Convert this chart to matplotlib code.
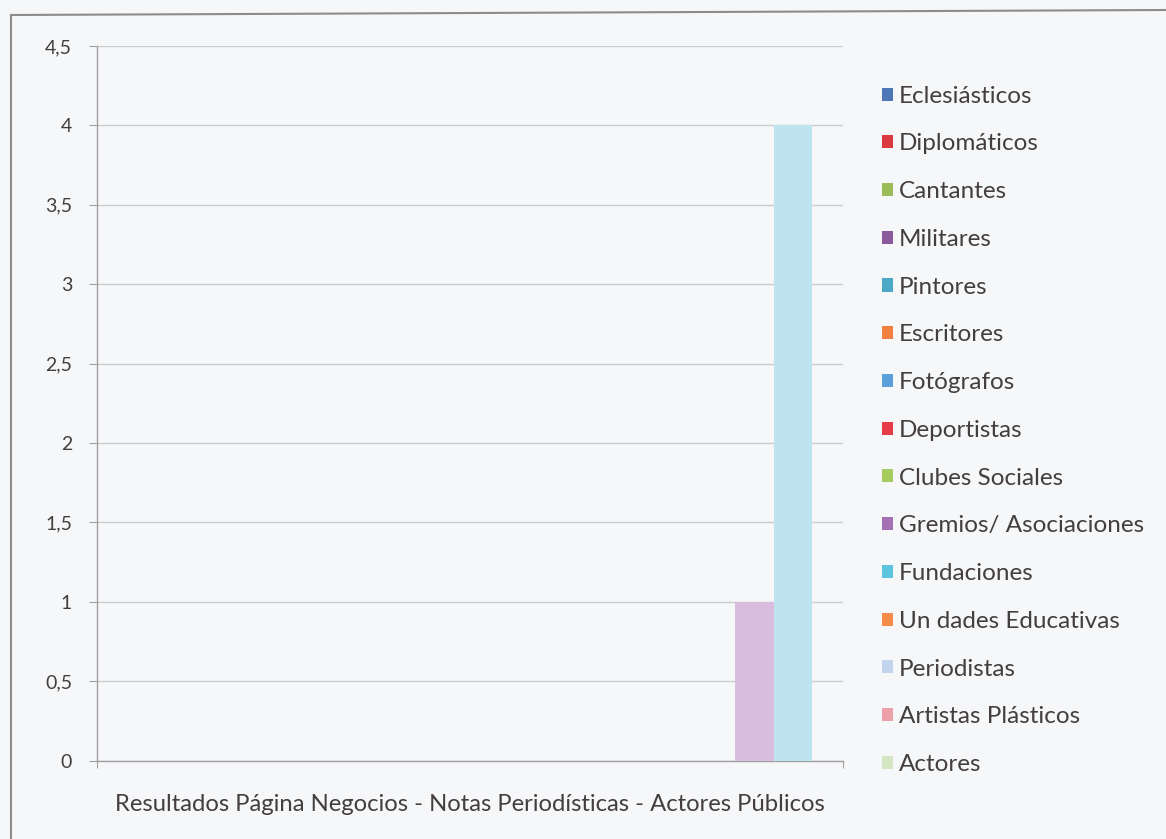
import numpy as np
import matplotlib.pyplot as plt
from matplotlib.patches import Patch
from matplotlib.lines import Line2D

plt.rcParams['font.family'] = ['Lato', 'DejaVu Sans']

category = 'Resultados Página Negocios - Notas Periodísticas - Actores Públicos'

series = ['Eclesiásticos', 'Diplomáticos', 'Cantantes', 'Militares', 'Pintores',
          'Escritores', 'Fotógrafos', 'Deportistas', 'Clubes Sociales',
          'Gremios/ Asociaciones', 'Fundaciones', 'Un dades Educativas',
          'Periodistas', 'Artistas Plásticos', 'Actores']
values = [0, 0, 0, 0, 0, 0, 0, 0, 0, 1, 4, 0, 0, 0, 0]

# legend swatch colours and the (lighter) fill used for the columns
key_colors = ['#4f78b8', '#d9393f', '#9bbb59', '#8a5a9c', '#4ba8c6',
              '#f2813f', '#5ba0d8', '#e63c48', '#a6cc5e', '#a472b4',
              '#5cc4de', '#f78c4a', '#c3d5ec', '#eca1aa', '#d4e6c2']
bar_colors = ['#b9c9e4', '#efb5b7', '#d5e3bd', '#cdb9d6', '#b6dde9',
              '#f9cdb0', '#bcd6ee', '#f3b3b8', '#d9ebbb', '#d9bddf',
              '#bde4ef', '#fbccae', '#e1eaf5', '#f5d3d7', '#e9f2e0']

yticks = np.arange(0, 4.51, 0.5)
ytick_labels = ['0', '0,5', '1', '1,5', '2', '2,5', '3', '3,5', '4', '4,5']

W, H = 1166, 839
bg = '#f6f7f9'
fig = plt.figure(figsize=(W / 100, H / 100), dpi=100, facecolor=bg)
ax = fig.add_axes([97 / W, 1 - 760.5 / H, 746 / W, 714.5 / H], facecolor=bg)

# column layout inside the single category (axis runs 0..1)
bar_w = 0.0516
cluster_start = 0.391
x = cluster_start + bar_w * np.arange(len(series))
ax.bar(x, values, width=bar_w, align='edge', color=bar_colors, zorder=3)

ax.set_xlim(0, 1)
ax.set_ylim(0, 4.5)
ax.set_yticks(yticks)
ax.set_yticklabels(ytick_labels)
ax.yaxis.grid(True, color='#cccccc', linewidth=1)
ax.set_axisbelow(True)

ax.set_xticks([0, 1])
ax.set_xticklabels(['', ''])
ax.set_xticks([0.5], minor=True)
ax.set_xticklabels([category], minor=True)
ax.tick_params(axis='x', which='major', direction='out', length=5, color='#a0a0a0')
ax.tick_params(axis='x', which='minor', length=0, pad=24, labelsize=17.2, labelcolor='#443e3e')
ax.tick_params(axis='y', direction='out', length=6, color='#a0a0a0', pad=12,
               labelsize=14, labelcolor='#443e3e')

for side in ['top', 'right']:
    ax.spines[side].set_visible(False)
for side in ['left', 'bottom']:
    ax.spines[side].set_color('#a0a0a0')
    ax.spines[side].set_linewidth(1)

handles = [Patch(facecolor=c, edgecolor='none') for c in key_colors]
leg = fig.legend(handles, series, loc='upper left', bbox_to_anchor=(872 / W, 1 - 76 / H),
                 frameon=False, fontsize=17.5, labelcolor='#443e3e',
                 handlelength=0.45, handleheight=0.45, handletextpad=0.25,
                 labelspacing=1.10, borderaxespad=0)

# chart frame (only the top and left edges show)
fig.add_artist(Line2D([11 / W, 1.0], [1 - 15 / H, 1 - 10 / H], color='#8c8c8c', linewidth=1.5))
fig.add_artist(Line2D([11 / W, 11 / W], [1 - 15 / H, 0.0], color='#8c8c8c', linewidth=1.5))

fig.savefig('out.png', dpi=100, facecolor=bg)
